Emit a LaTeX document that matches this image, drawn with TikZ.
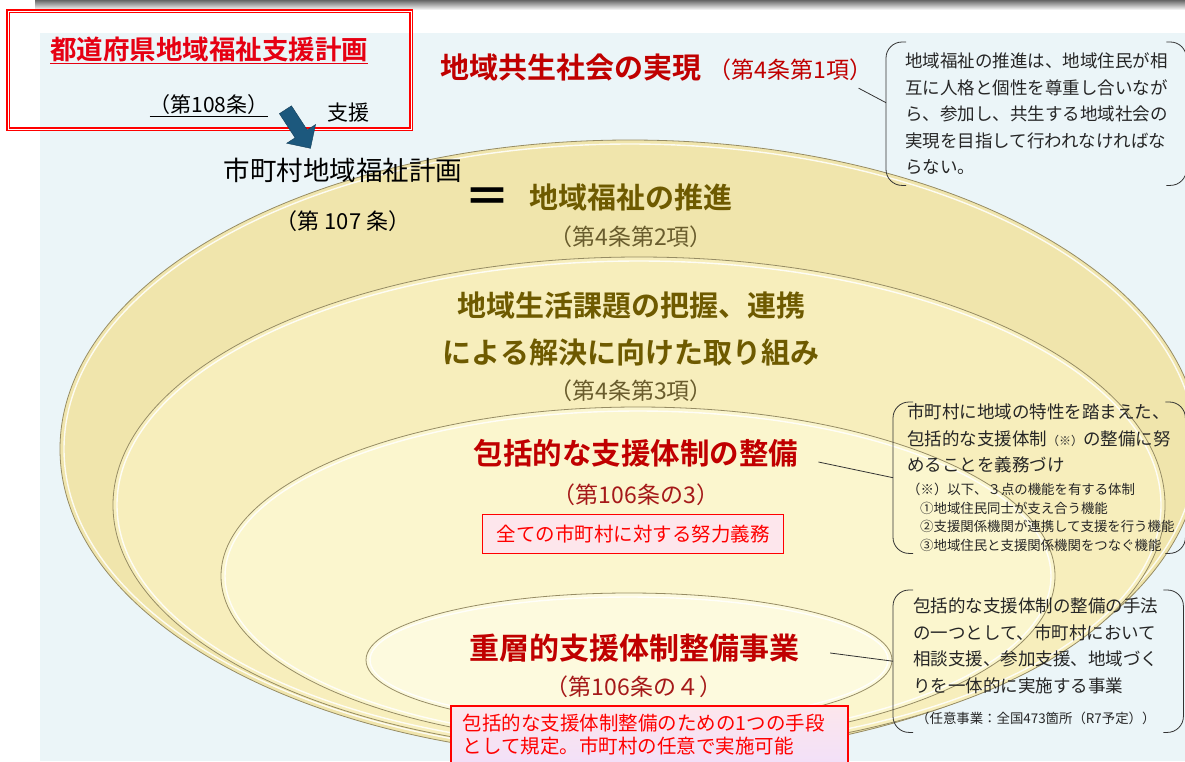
\documentclass[tikz,border=0pt]{standalone}
\usepackage{fontspec}
\setmainfont{Noto Sans CJK JP}[BoldFont={Noto Sans CJK JP Bold}]
\usetikzlibrary{positioning,shapes.arrows}
\definecolor{panel}{RGB}{235,245,248}
\definecolor{discA}{RGB}{240,229,172}
\definecolor{discB}{RGB}{247,238,188}
\definecolor{discC}{RGB}{251,246,206}
\definecolor{discD}{RGB}{253,250,222}
\definecolor{rimgray}{RGB}{150,140,100}
\definecolor{darkred}{RGB}{192,0,0}
\definecolor{artred}{RGB}{165,25,25}
\definecolor{olive}{RGB}{110,90,0}
\definecolor{olivesub}{RGB}{105,92,45}
\definecolor{brightred}{RGB}{230,0,18}
\definecolor{pinkfill}{RGB}{253,230,236}
\definecolor{lavender}{RGB}{242,224,248}
\definecolor{arrowblue}{RGB}{28,88,125}
\tikzset{
  disc/.style={draw=rimgray, line width=0.8pt},
  rim/.style={draw=white, line width=1.4pt, opacity=0.85},
  bigtitle/.style={font=\fontsize{29}{47}\selectfont\bfseries, align=center, inner sep=0pt},
  subtitle/.style={font=\fontsize{23}{26}\selectfont, inner sep=0pt},
  redbox/.style={draw=red, line width=1.5pt, fill=pinkfill, text=red},
  note/.style={anchor=north west, align=left, inner ysep=0pt, text=black!85,
    font=\fontsize{17.5}{26.5}\selectfont},
  bracket/.style={draw=black!80, line width=0.8pt, rounded corners=16pt},
  leader/.style={draw=black!80, line width=0.8pt}
}
\begin{document}
\begin{tikzpicture}[x=1pt,y=-1pt]
\useasboundingbox (0,0) rectangle (1185,761);
\clip (0,0) rectangle (1185,761);
\fill[panel] (40,33) rectangle (1185,761);
\shade[top color=black!60, bottom color=white] (35,0) rectangle (1185,10);

\path[disc, fill=discA] (630,449) ellipse [x radius=570, y radius=309];
\draw[rim] (630,449) ellipse [x radius=566, y radius=305];
\path[disc, fill=discB] (639,505) ellipse [x radius=526, y radius=248];
\draw[rim] (639,505) ellipse [x radius=522, y radius=244];
\path[disc, fill=discC] (638,576) ellipse [x radius=417, y radius=169];
\draw[rim] (638,576) ellipse [x radius=413, y radius=165];
\path[disc, fill=discD] (629,660) ellipse [x radius=263, y radius=67];
\draw[rim] (629,660) ellipse [x radius=259, y radius=63];

\node[draw=red, double=white, double distance=1pt, line width=1.2pt,
  minimum width=403pt, minimum height=118pt] (prefbox) at (209.5,70) {};
\node[font=\fontsize{26.5}{30}\selectfont\bfseries, text=brightred] (pref) at (209,50)
  {\underline{都道府県地域福祉支援計画}};
\node[font=\fontsize{21}{24}\selectfont, below=24pt of pref] (prefart) {\underline{（第108条）}};
\node[single arrow, fill=arrowblue, draw=arrowblue!70!black, rotate=-57,
  minimum height=46pt, inner sep=7pt, single arrow head extend=10pt] (down) at (296,126) {};
\node[font=\fontsize{21}{24}\selectfont] (help) at (348,113) {支援};
\node[font=\fontsize{26.5}{30}\selectfont] (muni) at (343,170) {市町村地域福祉計画};
\node[font=\fontsize{22}{24}\selectfont, below=21pt of muni] (muniart) {（第~107~条）};
\node[font=\fontsize{46}{46}\selectfont\bfseries] (eq) at (487,201) {＝};

\node[bigtitle, text=darkred] (goal) at (571,68) {地域共生社会の実現};
\node[subtitle, text=darkred, anchor=base west] (goalart) at ([xshift=7pt]goal.base east) {（第4条第1項）};
\node[bigtitle, text=olive] (promo) at (631,197) {地域福祉の推進};
\node[subtitle, text=olivesub, below=15pt of promo] (promoart) {（第4条第2項）};
\node[bigtitle, text=olive] (issue) at (631,329) {地域生活課題の把握、連携\\による解決に向けた取り組み};
\node[subtitle, text=olivesub, below=13pt of issue] (issueart) {（第4条第3項）};
\node[bigtitle, text=darkred, font=\fontsize{29.5}{47}\selectfont\bfseries] (sys) at (636,453) {包括的な支援体制の整備};
\node[subtitle, text=artred, below=16pt of sys] (sysart) {（第106条の3）};
\node[redbox, font=\fontsize{19.5}{22}\selectfont, minimum width=301pt, minimum height=39pt] (duty) at (633,534)
  {全ての市町村に対する努力義務};
\node[bigtitle, text=darkred, font=\fontsize{30}{47}\selectfont\bfseries] (multi) at (634,648) {重層的支援体制整備事業};
\node[subtitle, text=artred, below=13pt of multi] (multiart) {（第106条の４）};
\node[redbox, top color=pinkfill, bottom color=lavender, anchor=north west, align=left,
  text width=373pt, inner xsep=12pt, inner ysep=8pt, font=\fontsize{19.5}{23}\selectfont] (means) at (450,705)
  {包括的な支援体制整備のための1つの手段\\として規定。市町村の任意で実施可能};

\node[note, text width=262pt, inner xsep=19pt, minimum height=143pt] (note1) at (886,42)
  {地域福祉の推進は、地域住民が相\\互に人格と個性を尊重し合いなが\\ら、参加し、共生する地域社会の\\実現を目指して行われなければな\\らない。};
\node[note, text width=264pt, inner xsep=14pt, minimum height=151pt] (note2) at (893,402)
  {市町村に地域の特性を踏まえた、\\包括的な支援体制{\fontsize{12}{12}\selectfont（※）}の整備に努\\めることを義務づけ\par
   \vspace{4pt}
   {\fontsize{13.4}{18.7}\selectfont （※）以下、３点の機能を有する体制\\\hspace*{13pt}①地域住民同士が支え合う機能\\\hspace*{13pt}②支援関係機関が連携して支援を行う機能\\\hspace*{13pt}③地域住民と支援関係機関をつなぐ機能\par}};
\node[note, text width=250pt, inner xsep=20pt, minimum height=142pt] (note3) at (893,590)
  {包括的な支援体制の整備の手法\\の一つとして、市町村において\\相談支援、参加支援、地域づく\\りを一体的に実施する事業\par
   \vspace{12pt}
   {\fontsize{13.4}{18.7}\selectfont \hspace*{3pt}（任意事業：全国473箇所（R7予定））\par}};

\foreach \n in {note1,note2,note3}{
  \draw[bracket] ([xshift=20pt]\n.north west) -- (\n.north west) -- (\n.south west) -- ([xshift=20pt]\n.south west);
  \draw[bracket] ([xshift=-20pt]\n.north east) -- (\n.north east) -- (\n.south east) -- ([xshift=-20pt]\n.south east);
}
\draw[leader] ([xshift=-14pt,yshift=-18pt]goalart.east) -- ([yshift=11pt]note1.west);
\draw[leader] ([xshift=20pt,yshift=-9pt]sys.east) -- (note2.west);
\draw[leader] ([xshift=31pt,yshift=-5pt]multi.east) -- (note3.west);
\end{tikzpicture}
\end{document}
